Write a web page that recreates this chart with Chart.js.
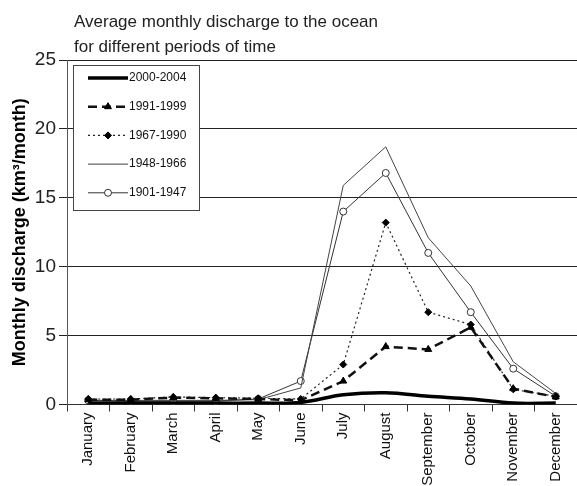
<!DOCTYPE html>
<html>
<head>
<meta charset="utf-8">
<script src="https://cdn.jsdelivr.net/npm/chart.js@4.4.0/dist/chart.umd.min.js"></script>
<style>
    html, body { margin: 0; padding: 0; background: #fff; overflow: hidden; }
    #wrap { position: relative; width: 577px; height: 486px; overflow: hidden; }
    #chart { position: absolute; left: 0; top: 0; }
    #title {
        position: absolute; left: 74px; top: 9px;
        font: 17px/25px "Liberation Sans", Arial, sans-serif; color: #222;
    }
</style>
</head>
<body>
<div id="wrap">
    <canvas id="chart" width="582" height="486"></canvas>
    <div id="title">Average monthly discharge to the ocean<br>for different periods of time</div>
</div>
<script>
// Donnees (km3/mois)
const months = ['January', 'February', 'March', 'April', 'May', 'June',
    'July', 'August', 'September', 'October', 'November', 'December'];
const yTicks = [0, 5, 10, 15, 20, 25];
const periods = ['2000-2004', '1991-1999', '1967-1990', '1948-1966', '1901-1947'];

const q2000 = [0.1, 0.1, 0.1, 0.1, 0.1, 0.15, 0.7, 0.85, 0.6, 0.4, 0.1, 0.1];
const q1991 = [0.35, 0.35, 0.5, 0.45, 0.4, 0.3, 1.7, 4.2, 4.0, 5.6, 1.15, 0.55];
const q1967 = [0.4, 0.4, 0.55, 0.5, 0.45, 0.4, 2.9, 13.2, 6.7, 5.8, 1.1, 0.6];
const q1948 = [0.3, 0.3, 0.3, 0.3, 0.35, 1.2, 15.9, 18.7, 12.1, 8.6, 3.1, 0.8];
const q1901 = [0.3, 0.25, 0.25, 0.25, 0.4, 1.7, 14.0, 16.8, 11.0, 6.7, 2.6, 0.6];

const FONT = '"Liberation Sans", Arial, sans-serif';

// Legende encadree dans la zone du graphique
const boxLegend = {
    id: 'boxLegend',
    beforeDatasetsDraw(chart) {
        const ctx = chart.ctx;
        const area = chart.chartArea;
        const x0 = area.left + 6, y0 = area.top + 4.5, w = 126, h = 145;
        ctx.save();
        ctx.fillStyle = '#fff';
        ctx.fillRect(x0, y0, w, h);
        ctx.strokeStyle = '#444';
        ctx.lineWidth = 1;
        ctx.strokeRect(Math.round(x0) + 0.5, Math.round(y0) + 0.5, w, h);

        chart.data.datasets.forEach((ds, i) => {
            const y = y0 + 13.5 + i * 28.7;
            ctx.beginPath();
            ctx.setLineDash(ds.borderDash || []);
            ctx.lineWidth = ds.borderWidth;
            ctx.strokeStyle = ds.borderColor;
            ctx.moveTo(x0 + 15, y);
            ctx.lineTo(x0 + 55, y);
            ctx.stroke();
            ctx.setLineDash([]);
            if (ds.pointRadius) {
                ctx.fillStyle = ds.pointBackgroundColor;
                ctx.strokeStyle = ds.pointBorderColor;
                ctx.lineWidth = ds.pointBorderWidth || 1;
                Chart.helpers.drawPoint(ctx, {
                    pointStyle: ds.pointStyle,
                    radius: ds.pointRadius,
                    borderWidth: ds.pointBorderWidth || 1,
                    rotation: 0
                }, x0 + 35, y);
            }
            ctx.fillStyle = '#111';
            ctx.font = '12px ' + FONT;
            ctx.textBaseline = 'middle';
            ctx.textAlign = 'left';
            ctx.fillText(ds.label, x0 + 56, y);
        });
        ctx.restore();
    }
};

const datasets = [
    {
        label: periods[0], data: q2000,
        borderColor: '#000', borderWidth: 3.5, pointRadius: 0, tension: 0.35
    },
    {
        label: periods[1], data: q1991,
        borderColor: '#111', borderWidth: 2.5, borderDash: [9, 5],
        pointStyle: 'triangle', pointRadius: 4,
        pointBackgroundColor: '#000', pointBorderColor: '#000', pointBorderWidth: 1
    },
    {
        label: periods[2], data: q1967,
        borderColor: '#222', borderWidth: 1.2, borderDash: [2, 3],
        pointStyle: 'rectRot', pointRadius: 3.5,
        pointBackgroundColor: '#000', pointBorderColor: '#000', pointBorderWidth: 1
    },
    {
        label: periods[3], data: q1948,
        borderColor: '#444', borderWidth: 1, pointRadius: 0
    },
    {
        label: periods[4], data: q1901,
        borderColor: '#333', borderWidth: 1,
        pointStyle: 'circle', pointRadius: 3.5,
        pointBackgroundColor: '#fff', pointBorderColor: '#333', pointBorderWidth: 1
    }
];

new Chart(document.getElementById('chart'), {
    type: 'line',
    data: { labels: months, datasets: datasets },
    plugins: [boxLegend],
    options: {
        responsive: false,
        animation: false,
        layout: { padding: { top: 60, right: 1, left: 0, bottom: 0 } },
        plugins: {
            legend: { display: false },
            tooltip: { enabled: false }
        },
        elements: { line: { fill: false } },
        scales: {
            x: {
                type: 'category',
                offset: true,
                grid: { offset: true, drawOnChartArea: false, drawTicks: true, tickLength: 7, color: '#333' },
                border: { color: '#333', width: 1 },
                ticks: {
                    autoSkip: false, minRotation: 90, maxRotation: 90, padding: 1,
                    color: '#111', font: { family: FONT, size: 15 }
                },
                afterFit(scale) { scale.height = 81.5; }
            },
            y: {
                min: 0, max: 25,
                afterBuildTicks(scale) { scale.ticks = yTicks.map(v => ({ value: v })); },
                grid: { color: '#222', tickLength: 8, drawTicks: true },
                border: { color: '#555', width: 1 },
                ticks: { padding: 3, color: '#222', font: { family: FONT, size: 19 } },
                title: {
                    display: true, text: 'Monthly discharge (km³/month)',
                    color: '#000', font: { family: FONT, size: 18, weight: 'bold' },
                    padding: { top: 9, bottom: 0 }
                },
                afterFit(scale) { scale.width = 67; }
            }
        }
    }
});
</script>
</body>
</html>
